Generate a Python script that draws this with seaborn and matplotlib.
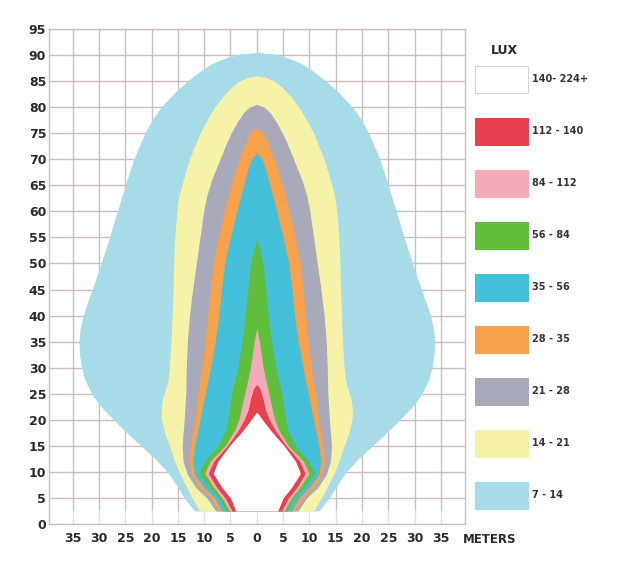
import numpy as np
import matplotlib
matplotlib.use("Agg")
import matplotlib.pyplot as plt
from matplotlib.patches import Patch
import seaborn as sns

# lux bands, brightest first (legend order)
lux_labels = ["140- 224+", "112 - 140", "84 - 112", "56 - 84", "35 - 56",
              "28 - 35", "21 - 28", "14 - 21", "7 - 14"]
lux_colors = ["#ffffff", "#e9404f", "#f4aab8", "#60c03e", "#45c0db",
              "#f7a14a", "#a8a9bb", "#f6f3a9", "#a7dbe8"]

# isolux outlines: distance ahead (m) and half width (m)
y_7 = [2.5, 5, 7.5, 10, 12.5, 15, 17.5, 20, 22.5, 25, 27.5, 30, 32.5, 35, 37.5, 40, 42.5,
       45, 50, 55, 60, 65, 70, 75, 78, 80, 83, 85, 87, 88.5, 89.5, 90.2, 90.5]
w_7 = [11.8, 13.8, 15.3, 17, 19.3, 22, 24.7, 27.2, 29.6, 31.4, 32.6, 33.3, 33.7, 33.8, 33.6, 33.0, 32.2,
       31.3, 29.6, 28, 26.5, 25, 23.4, 21.3, 19.6, 18.2, 15.4, 13.2, 10.6, 8.3, 5.8, 3.2, 0]

y_14 = [2.5, 5, 7.5, 10, 12.5, 15, 17.5, 20, 22, 24, 26, 28, 30, 35, 40, 45, 50, 55, 60,
        63, 66, 70, 73, 75, 78, 80, 82, 84, 85, 85.7, 86]
w_14 = [10.8, 12.3, 13.6, 14.8, 15.8, 16.6, 17.5, 18.1, 18.2, 17.9, 17.3, 16.8, 16.6, 16.3, 16.1, 15.9, 15.8, 15.6, 15.2,
        14.8, 14.0, 12.8, 11.6, 10.8, 9.2, 8, 6.5, 4.6, 3.3, 1.8, 0]

y_21 = [2.5, 5, 7, 9.5, 12, 15, 20, 25, 30, 35, 40, 45, 50, 55, 60, 63, 66, 70, 73, 75, 77, 79, 80, 80.5]
w_21 = [7.8, 9.5, 11.6, 13.2, 14.0, 14.2, 13.8, 13.5, 13.4, 13.2, 12.8, 12.2, 11.5, 10.8, 10.1, 9.5, 8.6, 7, 5.8, 4.9, 3.8, 2.5, 1.4, 0]

y_28 = [2.5, 5, 7, 9.5, 12, 15, 20, 25, 30, 35, 40, 45, 50, 55, 60, 65, 68, 70, 72, 74, 75.3, 76]
w_28 = [7.2, 8.7, 10.8, 12.4, 12.9, 12.6, 11.8, 11.2, 10.4, 9.8, 9.3, 8.8, 8.3, 7.3, 6.2, 4.9, 4.0, 3.3, 2.6, 1.8, 1.1, 0]

y_35 = [2.5, 5, 7, 9.5, 12, 15, 20, 25, 30, 35, 40, 45, 50, 55, 60, 65, 68, 70, 71.2]
w_35 = [6.6, 8, 10, 11.8, 12.2, 11.8, 10.8, 9.8, 8.8, 7.9, 7.2, 6.7, 6.1, 5, 3.8, 2.5, 1.7, 1, 0]

y_56 = [2.5, 5, 7, 9.7, 12, 15, 18, 20, 25, 30, 35, 40, 45, 50, 55]
w_56 = [5.8, 7.2, 9, 11, 9.9, 7.4, 5.9, 5.5, 4.8, 3.6, 2.8, 2.2, 1.7, 1.2, 0]

y_84 = [2.5, 5, 7, 9.7, 12, 15, 18, 20, 25, 30, 35, 37.5]
w_84 = [5.2, 6.6, 8.2, 9.9, 8.9, 6, 4.2, 3.4, 2.3, 1.2, 0.5, 0]

y_112 = [2.5, 5, 7, 9.7, 12, 15, 18, 20, 22, 24, 26, 26.8]
w_112 = [4.7, 6, 7.6, 9.2, 8.2, 5.6, 3.5, 2.4, 1.6, 1.2, 0.6, 0]

y_140 = [2.5, 5, 7, 9.7, 12, 15, 18, 20, 21.5]
w_140 = [4, 5, 6.6, 8.3, 7.4, 5.2, 2.6, 1.1, 0]

x_ticks = list(range(-35, 40, 5))
y_ticks = list(range(0, 100, 5))

sns.set_style("white")
plt.rcParams["font.family"] = ["DejaVu Sans"]

grid_color = "#cbbdbd"
text_color = "#2a2a2a"

fig = plt.figure(figsize=(6.24, 5.66), dpi=100)
ax = fig.add_axes([0.0785, 0.0742, 0.666, 0.8746])

# outer band first, inner (brighter) bands painted on top
outlines = [(y_7, w_7), (y_14, w_14), (y_21, w_21), (y_28, w_28), (y_35, w_35),
            (y_56, w_56), (y_84, w_84), (y_112, w_112), (y_140, w_140)]
band_colors = lux_colors[::-1]
for (yy, ww), col in zip(outlines, band_colors):
    ww = np.array(ww)
    ax.fill_betweenx(yy, -ww, ww, color=col, lw=0, zorder=2)

# faded strip at the lamp position
ax.axhspan(0, 2.5, color="white", alpha=0.55, lw=0, zorder=1)

ax.set_xlim(-39.5, 39.5)
ax.set_ylim(0, 95)
ax.set_xticks(x_ticks)
ax.set_xticklabels([str(abs(t)) for t in x_ticks])
ax.set_yticks(y_ticks)
ax.set_yticklabels([str(t) for t in y_ticks])
ax.tick_params(axis="both", length=0, labelsize=9, labelcolor=text_color)
ax.tick_params(axis="x", pad=6)
ax.tick_params(axis="y", pad=2)
for lab in ax.get_xticklabels() + ax.get_yticklabels():
    lab.set_fontweight("bold")

ax.grid(True, color=grid_color, lw=1.0)
ax.set_axisbelow(True)
for sp in ax.spines.values():
    sp.set_visible(True)
    sp.set_color(grid_color)
    sp.set_linewidth(1.0)

ax.text(44.3, -3.0, "METERS", ha="center", va="center", fontsize=8.5,
        fontweight="bold", color=text_color, clip_on=False)

# legend
fig.text(504 / 624, 1 - 50 / 566, "LUX", ha="center", va="center",
         fontsize=9, fontweight="bold", color=text_color)
handles = [Patch(facecolor=c, edgecolor="#d5d5d5" if c == "#ffffff" else c, lw=0.8)
           for c in lux_colors]
leg = fig.legend(handles, lux_labels, loc="upper left",
                 bbox_to_anchor=(475 / 624, 1 - 66 / 566), frameon=False,
                 prop={"size": 7, "weight": "bold"},
                 handlelength=5.45, handleheight=3.9, labelspacing=2.57,
                 handletextpad=0.4, borderpad=0, borderaxespad=0)
for t in leg.get_texts():
    t.set_color("#333333")

fig.savefig("out.png", dpi=100)
